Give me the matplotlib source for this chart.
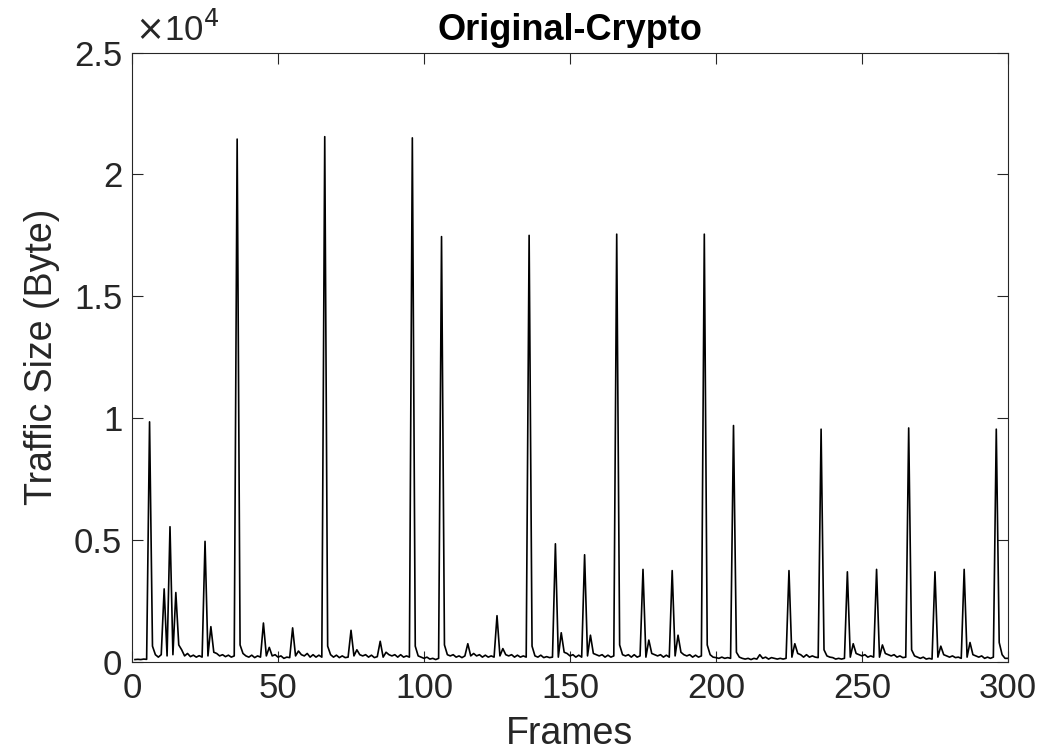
import numpy as np
import matplotlib
matplotlib.use('Agg')
from matplotlib import pyplot as plt
from matplotlib.ticker import FuncFormatter

plt.rcParams['font.family'] = ['Liberation Sans', 'DejaVu Sans']

# traffic size per frame (frames 1..300)
traffic = [
    100, 110, 100, 120, 110, 9850, 650, 300, 200, 300,
    3000, 250, 5550, 300, 2850, 700, 500, 250, 350, 220,
    280, 200, 260, 200, 4950, 250, 1450, 400, 350, 250,
    300, 220, 280, 200, 250, 21450, 700, 350, 250, 200,
    280, 180, 250, 200, 1600, 250, 600, 250, 300, 200,
    250, 150, 200, 180, 1400, 250, 450, 300, 250, 350,
    200, 300, 200, 280, 200, 21550, 650, 300, 200, 280,
    180, 250, 180, 200, 1300, 250, 500, 300, 250, 300,
    200, 280, 180, 220, 850, 200, 400, 300, 250, 300,
    200, 300, 200, 250, 200, 21500, 650, 250, 200, 150,
    200, 120, 150, 100, 150, 17450, 700, 300, 250, 300,
    200, 250, 180, 250, 750, 250, 350, 250, 300, 200,
    280, 200, 250, 200, 1900, 250, 550, 300, 250, 300,
    200, 280, 200, 250, 200, 17500, 650, 250, 200, 280,
    180, 220, 180, 200, 4850, 200, 1200, 400, 350, 250,
    300, 200, 280, 200, 4400, 250, 1100, 350, 300, 250,
    300, 200, 280, 200, 250, 17550, 700, 300, 250, 300,
    200, 300, 200, 250, 3800, 200, 900, 350, 300, 250,
    300, 200, 280, 200, 3750, 250, 1100, 400, 300, 250,
    300, 200, 280, 200, 250, 17550, 700, 300, 200, 180,
    150, 200, 150, 180, 150, 9700, 400, 200, 150, 120,
    150, 100, 150, 120, 300, 150, 200, 120, 180, 150,
    120, 150, 120, 150, 3750, 200, 750, 350, 300, 200,
    300, 200, 250, 200, 180, 9550, 500, 250, 200, 180,
    120, 150, 120, 150, 3700, 200, 750, 350, 300, 250,
    300, 200, 250, 200, 3800, 200, 700, 350, 300, 250,
    300, 200, 250, 180, 200, 9600, 500, 250, 200, 150,
    200, 120, 150, 120, 3700, 200, 650, 300, 250, 200,
    250, 180, 200, 150, 3800, 200, 800, 300, 250, 200,
    250, 150, 200, 150, 200, 9550, 800, 300, 150, 150,
]
frames = np.arange(1, len(traffic) + 1)

xticks = [0, 50, 100, 150, 200, 250, 300]
yticks = [0, 5000, 10000, 15000, 20000, 25000]

fig = plt.figure(figsize=(10.58, 7.51), dpi=100)
ax = fig.add_axes([0.1248, 0.1185, 0.8279, 0.8115])

ax.plot(frames, traffic, color='black', linewidth=1.2)

ax.set_xlim(0, 300)
ax.set_ylim(0, 25000)
ax.set_xticks(xticks)
ax.set_yticks(yticks)
ax.yaxis.set_major_formatter(FuncFormatter(lambda v, p: '%g' % (v / 1e4)))
ax.tick_params(direction='in', top=True, right=True, length=8, width=0.8,
               labelsize=25, colors='#262626', pad=7)
for s in ax.spines.values():
    s.set_color('#262626')
    s.set_linewidth(0.8)

ax.text(0.003, 1.008, r'$\times$10$^4$', transform=ax.transAxes, fontsize=25,
        ha='left', va='bottom', color='#262626')
ax.set_xlabel('Frames', fontsize=27, color='#262626', labelpad=8)
ax.set_ylabel('Traffic Size (Byte)', fontsize=27, color='#262626', labelpad=10)
ax.set_title('Original-Crypto', fontsize=26, fontweight='bold', pad=9)

fig.savefig('out.png', dpi=100)
